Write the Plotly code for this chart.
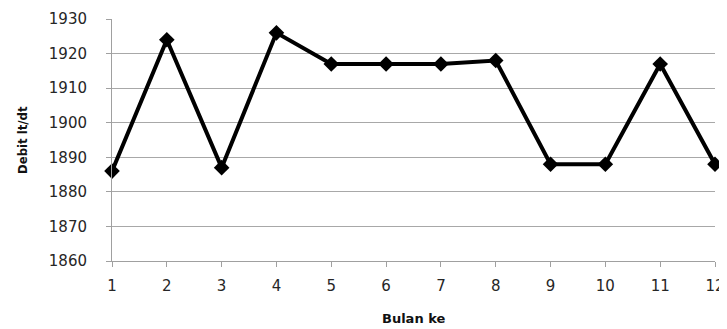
import plotly.graph_objects as go

months = [1, 2, 3, 4, 5, 6, 7, 8, 9, 10, 11, 12]
debit = [1886, 1924, 1887, 1926, 1917, 1917, 1917, 1918, 1888, 1888, 1917, 1888]
y_ticks = [1860, 1870, 1880, 1890, 1900, 1910, 1920, 1930]

fig = go.Figure()
fig.add_trace(go.Scatter(
    x=months, y=debit, mode="lines+markers",
    line=dict(color="black", width=4),
    marker=dict(symbol="diamond", size=12, color="black"),
    cliponaxis=False, showlegend=False,
))

# page body has an 8px default margin, so the figure is offset by 8px
fig.update_layout(
    width=719, height=321,
    margin=dict(l=104, r=12, t=11, b=68),
    paper_bgcolor="white", plot_bgcolor="white",
    font=dict(family="DejaVu Sans", size=15, color="#262626"),
    xaxis=dict(
        range=[1, 12], tickvals=months, ticktext=[str(m) for m in months],
        showgrid=False, showline=True, linecolor="#a0a0a0", linewidth=1,
        ticks="outside", ticklen=5, tickcolor="#a0a0a0",
        ticklabelstandoff=6, zeroline=False, automargin=False,
    ),
    yaxis=dict(
        range=[1860, 1930], tickvals=y_ticks,
        showgrid=True, gridcolor="#a8a8a8", gridwidth=1,
        showline=True, linecolor="#a0a0a0", linewidth=1,
        ticks="outside", ticklen=5, tickcolor="#a0a0a0",
        ticklabelstandoff=16, zeroline=False, automargin=False,
    ),
    annotations=[
        dict(text="<b>Bulan ke</b>", xref="paper", yref="paper", x=0.5, y=0,
             yshift=-57, xanchor="center", yanchor="middle", showarrow=False,
             font=dict(size=13, color="#111")),
        dict(text="<b>Debit lt/dt</b>", xref="paper", yref="paper", x=0, y=0.5,
             xshift=-90, xanchor="center", yanchor="middle", showarrow=False, textangle=-90,
             font=dict(family="DejaVu Sans Condensed", size=13, color="#111")),
    ],
)

fig.write_html("out.html")
